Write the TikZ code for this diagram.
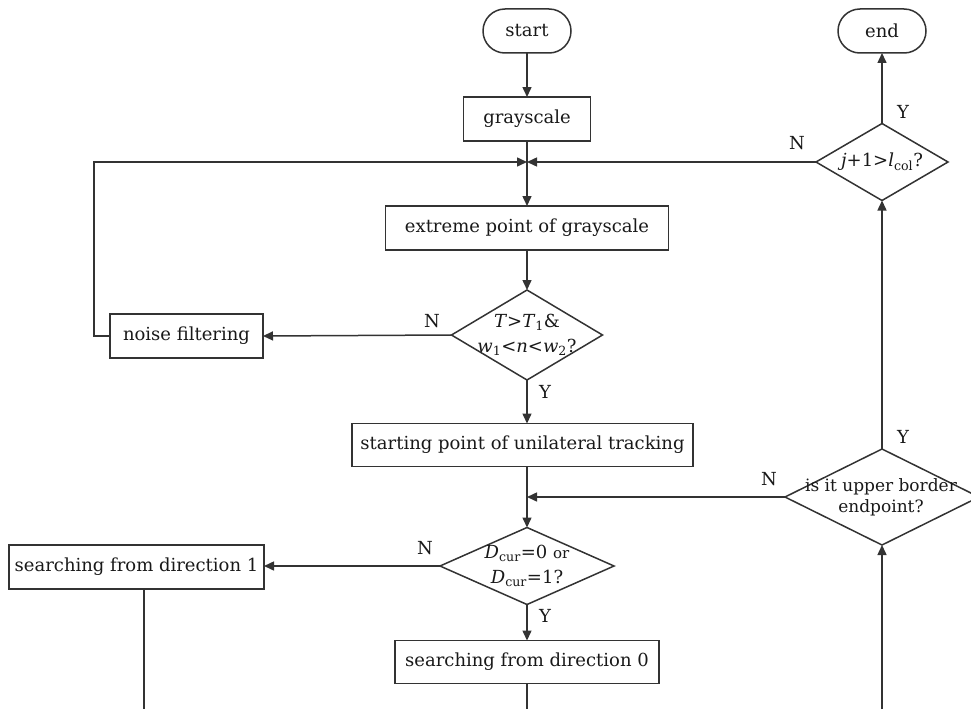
\documentclass[tikz,border=0pt]{standalone}
\usepackage{fontspec}
\setmainfont{DejaVu Serif}
\usetikzlibrary{shapes.geometric,arrows.meta}
\newcommand{\vi}[1]{\textit{#1}}
\newcommand{\sbs}[1]{\textsubscript{#1}}
\begin{document}
\begin{tikzpicture}[x=1pt,y=-1pt,
  every node/.style={font=\fontsize{18}{22}\selectfont, text=black!90},
  line/.style={draw=black!80, line width=1.5pt},
  arr/.style={line, -{Triangle[length=10pt,width=9pt]}},
  procbox/.style={draw=black!80, line width=1.5pt, rectangle, inner sep=0pt, outer sep=0pt},
  pill/.style={draw=black!80, line width=1.5pt, rectangle, rounded corners=22pt, inner sep=0pt, outer sep=0pt, minimum width=88pt, minimum height=44pt},
  decision/.style={draw=black!80, line width=1.5pt, diamond, inner sep=0pt, outer sep=0pt},
  dtxt/.style={align=center, font=\fontsize{18}{25}\selectfont},
  lbl/.style={font=\fontsize{18}{22}\selectfont}
]
\useasboundingbox (0,0) rectangle (971,709);
% terminals
\node[pill] (start) at (527,31) {start};
\node[pill] (end) at (882,31) {end};
% process boxes
\node[procbox, minimum width=127pt, minimum height=44pt] (gray) at (527,119) {grayscale};
\node[procbox, minimum width=283pt, minimum height=44pt] (ext) at (527,228) {extreme point of grayscale};
\node[procbox, minimum width=153pt, minimum height=44pt] (noise) at (186.5,336) {noise filtering};
\node[procbox, minimum width=341pt, minimum height=43pt] (spt) at (522.5,445) {starting point of unilateral tracking};
\node[procbox, minimum width=255pt, minimum height=44pt] (s1) at (136.5,567) {searching from direction 1};
\node[procbox, minimum width=264pt, minimum height=43pt] (s0) at (527,662) {searching from direction 0};
% decisions
\node[decision, minimum width=151pt, minimum height=90pt] (tdia) at (527,335) {};
\node[dtxt] (ttext) at (527,335) {\vi{T}>\vi{T}\sbs{1}\&\\\vi{w}\sbs{1}<\vi{n}<\vi{w}\sbs{2}?};
\node[decision, minimum width=174pt, minimum height=77pt] (ddia) at (527,566) {};
\node[dtxt] (dtext) at (527,566) {\vi{D}\sbs{cur}=0 {\fontsize{15}{18}\selectfont or}\\\vi{D}\sbs{cur}=1?};
\node[decision, minimum width=194pt, minimum height=96pt] (udia) at (882,497) {};
\node[align=center, font=\fontsize{17}{21}\selectfont] (utext) at (881,497) {is it upper border\\endpoint?};
\node[decision, minimum width=132pt, minimum height=77pt] (jdia) at (882,162) {};
\node (jtext) at (882,162) {\vi{j}+1>\vi{l}\sbs{col}?};
% junctions and free ends
\coordinate (J1) at (527,162);
\coordinate (J2) at (527,497);
\coordinate (L1) at (94,336);
\coordinate (L2) at (94,162);
\coordinate (B1) at (144,709);
\coordinate (B0) at (527,709);
\coordinate (BU) at (882,709);
% connectors
\draw[arr] (start) -- (gray);
\draw[arr] (gray) -- (ext);
\draw[arr] (noise.west) -- (L1) -- (L2) -- (J1);
\draw[arr] (jdia.west) -- (J1);
\draw[arr] (jdia.north) -- (end.south);
\draw[arr] (ext) -- (tdia.north);
\draw[arr] (tdia.west) -- (noise.east);
\draw[arr] (tdia.south) -- (tdia.south |- spt.north);
\draw[arr] (spt.south -| J2) -- (ddia.north);
\draw[arr] (udia.west) -- (J2);
\draw[arr] (udia.north) -- (jdia.south);
\draw[arr] (ddia.west) -- (ddia.west -| s1.east);
\draw[arr] (ddia.south) -- (ddia.south |- s0.north);
\draw[line] (s1.south -| B1) -- (B1);
\draw[line] (s0.south) -- (B0);
\draw[arr] (BU) -- (udia.south);
% labels
\node[lbl] (yj) at (903,112) {Y};
\node[lbl] (nj) at (797,143) {N};
\node[lbl] (nt) at (432,321) {N};
\node[lbl] (yt) at (545,392) {Y};
\node[lbl] (yu) at (903,437) {Y};
\node[lbl] (nu) at (769,479) {N};
\node[lbl] (nd) at (425,548) {N};
\node[lbl] (yd) at (545,616) {Y};
\end{tikzpicture}
\end{document}
